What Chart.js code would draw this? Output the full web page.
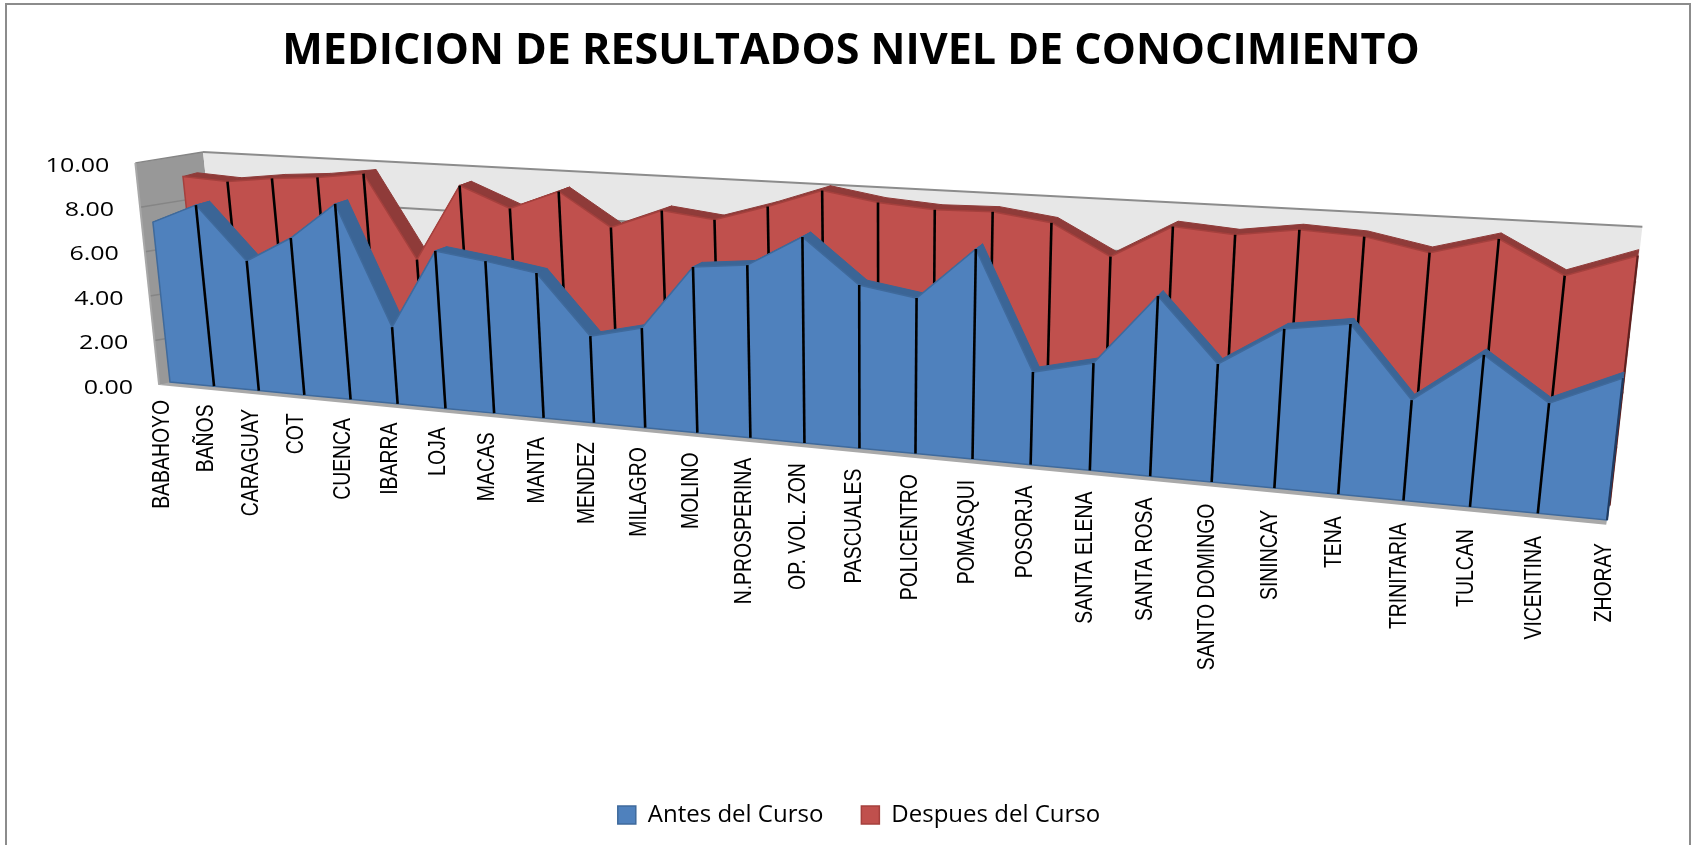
<!DOCTYPE html>
<html>
<head>
<meta charset="utf-8">
<style>
  html, body { margin: 0; padding: 0; background: #fff; }
  canvas { display: block; }
</style>
<script src="https://cdn.jsdelivr.net/npm/chart.js@4"></script>
</head>
<body>
<canvas id="myChart" width="1694" height="845"></canvas>
<script>
const categories = ["BABAHOYO", "BAÑOS", "CARAGUAY", "COT", "CUENCA", "IBARRA", "LOJA", "MACAS", "MANTA",
  "MENDEZ", "MILAGRO", "MOLINO", "N.PROSPERINA", "OP. VOL. ZON", "PASCUALES", "POLICENTRO", "POMASQUI",
  "POSORJA", "SANTA ELENA", "SANTA ROSA", "SANTO DOMINGO", "SININCAY", "TENA", "TRINITARIA", "TULCAN",
  "VICENTINA", "ZHORAY"];
const antes = [7.2, 8.1, 5.75, 6.91, 8.54, 3.33, 6.78, 6.49, 6.14, 3.64, 4.15, 6.85, 7.08, 8.38, 6.58, 6.22,
  8.33, 3.64, 4.18, 6.96, 4.52, 6.04, 6.4, 3.74, 5.61, 4.03, 5.14];
const despues = [8.85, 8.74, 9.0, 9.16, 9.44, 5.83, 9.16, 8.3, 9.15, 7.76, 8.6, 8.35, 9.02, 9.8, 9.44, 9.28,
  9.33, 9.03, 7.84, 9.15, 8.97, 9.3, 9.18, 8.72, 9.38, 8.17, 9.05];

// perspective of the 3D box, everything below goes through project()
const DEPTH_WALL_FRONT = -0.16, DEPTH_WALL_BACK = 0.835;
const BLUE = { depth: 0, band: 0.21, front: "#4f81bd", top: "#3b6596", edge: "#3f6a9c", side: "#1f3a5f" };
const RED = { depth: 0.5, band: 0.21, front: "#c0504d", top: "#8f3b39", edge: "#a5403d", side: "#5e1f1d" };

function project(t, v, d) {
  const s = t / (1.265 - 0.265 * t);
  const h = (222 + 54 * s) * v;
  return {
    x: 170 + 1437 * s + (-0.107 + 0.22 * s) * h + d * (68 - 63 * s),
    y: 382 + 138 * s - h + d * (-18 - 11 * s)
  };
}

function poly(ctx, pts, fill, stroke, width) {
  ctx.beginPath();
  pts.forEach((p, i) => (i ? ctx.lineTo(p.x, p.y) : ctx.moveTo(p.x, p.y)));
  ctx.closePath();
  if (fill) { ctx.fillStyle = fill; ctx.fill(); }
  if (stroke) { ctx.strokeStyle = stroke; ctx.lineWidth = width; ctx.stroke(); }
}

function seg(ctx, a, b, color, width) {
  ctx.beginPath();
  ctx.moveTo(a.x, a.y);
  ctx.lineTo(b.x, b.y);
  ctx.strokeStyle = color;
  ctx.lineWidth = width;
  ctx.stroke();
}

const backWall = (t, v) => {
  const p = project(t, v, DEPTH_WALL_BACK);
  return { x: p.x, y: p.y + 7 };
};

function drawWalls(chart, ctx) {
  const vals = chart.scales.y.ticks.map(k => k.value / 10);
  poly(ctx, [project(0, 0, DEPTH_WALL_FRONT), project(0, 1, DEPTH_WALL_FRONT), backWall(0, 1), backWall(0, 0)], "#989898");
  poly(ctx, [backWall(0, 0), backWall(0, 1), backWall(1, 1), backWall(1, 0)], "#e7e7e7");
  vals.forEach(v => {
    if (v === 0) return;
    seg(ctx, project(0, v, DEPTH_WALL_FRONT), backWall(0, v), "#858585", 1.5);
    seg(ctx, backWall(0, v), backWall(1, v), "#8c8c8c", 2);
  });
  seg(ctx, project(0, 0, DEPTH_WALL_FRONT), project(0, 1, DEPTH_WALL_FRONT), "#a8a8a8", 2);
  poly(ctx, [project(0, 0, DEPTH_WALL_FRONT), project(1, 0, DEPTH_WALL_FRONT), project(1, 0, 0.1), project(0, 0, 0.1)], "#a9a9a9");
}

function drawSeries(chart, ctx, index, look) {
  const y = chart.scales.y;
  const area = chart.chartArea;
  const meta = chart.getDatasetMeta(index);
  const coords = meta.data.map(el => ({
    t: (el.x - area.left) / (area.right - area.left),
    v: (y.bottom - el.y) / (y.bottom - y.top)
  }));
  const front = coords.map(c => project(c.t, c.v, look.depth));
  const back = coords.map(c => project(c.t, c.v, look.depth + look.band));
  const base = coords.map(c => project(c.t, 0, look.depth));

  for (let i = 0; i < coords.length - 1; i++) {
    poly(ctx, [front[i], front[i + 1], back[i + 1], back[i]], look.top, look.top, 1);
  }
  poly(ctx, front.concat(base.slice().reverse()), look.front, look.edge, 1.5);
  for (let i = 1; i < coords.length - 1; i++) {
    seg(ctx, front[i], base[i], "#000", 2.6);
  }
  seg(ctx, front[coords.length - 1], base[coords.length - 1], look.side, 2.2);
}

function drawTickLabels(chart, ctx) {
  const x = chart.scales.x, y = chart.scales.y;
  ctx.fillStyle = "#000";
  ctx.textBaseline = "middle";

  y.ticks.forEach(k => {
    const p = project(0, (y.bottom - y.getPixelForValue(k.value)) / (y.bottom - y.top), DEPTH_WALL_FRONT);
    ctx.save();
    ctx.translate(p.x - 26, p.y + 3);
    ctx.scale(1.25, 1);
    ctx.font = "20px 'Open Sans'";
    ctx.textAlign = "right";
    ctx.fillText(k.value.toFixed(2), 0, 0);
    ctx.restore();
  });

  categories.forEach((name, i) => {
    const t = (x.getPixelForValue(i) - x.left) / (x.right - x.left);
    const p = project(t, 0, 0);
    const s = (p.x - 170) / 1437;
    ctx.save();
    ctx.translate(p.x - 8 + 5 * s, p.y + 18 + 5 * s);
    ctx.rotate(-Math.PI / 2);
    ctx.scale(1, 1.25);
    ctx.font = "19.4px 'Liberation Sans'";
    ctx.textAlign = "right";
    ctx.fillText(name, 0, 0);
    ctx.restore();
  });
}

const box3d = {
  id: "box3d",
  afterLayout(chart) {
    chart.legend.left += 8;
    chart.legend.right += 8;
  },
  beforeDraw(chart) {
    const ctx = chart.ctx;
    ctx.strokeStyle = "#8c8c8c";
    ctx.lineWidth = 2;
    ctx.strokeRect(6, 4, 1684, 900);
  },
  beforeDatasetsDraw(chart) {
    const ctx = chart.ctx;
    ctx.save();
    drawWalls(chart, ctx);
    drawSeries(chart, ctx, 1, RED);
    drawSeries(chart, ctx, 0, BLUE);
    drawTickLabels(chart, ctx);
    ctx.restore();
    return false;
  }
};

new Chart(document.getElementById("myChart").getContext("2d"), {
  type: "line",
  data: {
    labels: categories,
    datasets: [
      { label: "Antes del Curso", data: antes, backgroundColor: BLUE.front, borderColor: BLUE.edge, borderWidth: 1.5, pointRadius: 0, fill: false },
      { label: "Despues del Curso", data: despues, backgroundColor: RED.front, borderColor: RED.edge, borderWidth: 1.5, pointRadius: 0, fill: false }
    ]
  },
  plugins: [box3d],
  options: {
    responsive: false,
    animation: false,
    layout: { padding: { top: 22, left: 8, right: 0, bottom: 8 } },
    scales: {
      x: { offset: false, grid: { display: false }, border: { display: false }, ticks: { display: false } },
      y: { min: 0, max: 10, grid: { display: false }, border: { display: false }, ticks: { display: false, stepSize: 2 } }
    },
    plugins: {
      title: {
        display: true,
        text: "MEDICION DE RESULTADOS NIVEL DE CONOCIMIENTO",
        color: "#000",
        font: { family: "'Open Sans'", size: 43, weight: "bold" },
        padding: { top: 4, bottom: 10 }
      },
      legend: {
        position: "bottom",
        labels: {
          color: "#000",
          boxWidth: 18,
          boxHeight: 18,
          padding: 38,
          font: { family: "'Open Sans'", size: 24 }
        }
      },
      tooltip: { enabled: false }
    }
  }
});
</script>
</body>
</html>
